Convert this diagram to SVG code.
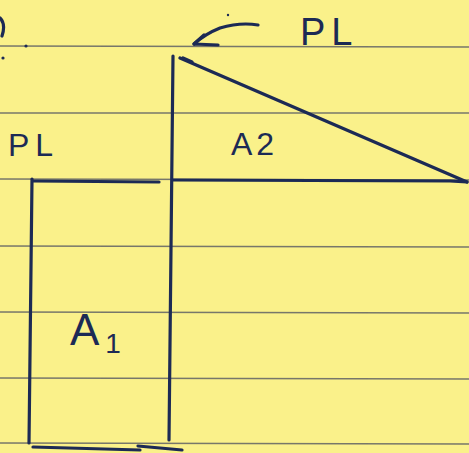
<svg xmlns="http://www.w3.org/2000/svg" width="469" height="453" viewBox="0 0 469 453">
<style>
.rule{stroke:#77776a;stroke-width:1.3;fill:none}
.ink{stroke:#1c2a55;stroke-width:3.2;fill:none;stroke-linecap:round;stroke-linejoin:round}
.lbl{font-family:"Liberation Sans","DejaVu Sans",sans-serif;fill:#1c2a55}
</style>
<rect width="469" height="453" fill="#faf18a"/>
<g id="paper-rules">
<line class="rule" x1="0" y1="46" x2="469" y2="47"/>
<line class="rule" x1="0" y1="113" x2="469" y2="113"/>
<line class="rule" x1="0" y1="179" x2="469" y2="180"/>
<line class="rule" x1="0" y1="246" x2="469" y2="247"/>
<line class="rule" x1="0" y1="312" x2="469" y2="313"/>
<line class="rule" x1="0" y1="378" x2="469" y2="379"/>
<line class="rule" x1="0" y1="443" x2="469" y2="444"/>
</g>
<g id="edge-marks">
<path class="ink" d="M0,18 Q6,24 2,36" stroke-width="2.5"/>
<circle cx="26" cy="46" r="1.6" fill="#1c2a55"/>
<circle cx="3" cy="58" r="1.6" fill="#1c2a55"/>
<circle cx="228" cy="15" r="1.2" fill="#1c2a55"/>
</g>
<g id="shapes">
<path class="ink" d="M32,179 L29,443"/>
<path class="ink" d="M173,56 L169,440"/>
<path class="ink" d="M33,181 L159,182"/>
<path class="ink" d="M173,180 L450,181 L467,182"/>
<path class="ink" d="M180,58 L467,182"/>
<path class="ink" d="M33,447 L140,450 M138,446 L182,450"/>
</g>
<g id="connectors">
<path class="ink" d="M258,25 Q240,22 220,28 Q205,34 194,44"/>
<path class="ink" d="M194,44 L204,35 M194,44 L218,45"/>
<path class="ink" d="M183,58 L192,62" stroke-width="2.5"/>
</g>
<g id="label-pl-top"><text class="lbl" x="300" y="45" font-size="38" letter-spacing="6">PL</text></g>
<g id="label-pl-left"><text class="lbl" x="8" y="156" font-size="32" letter-spacing="6">PL</text></g>
<g id="label-a2"><text class="lbl" x="231" y="155" font-size="32" letter-spacing="4">A2</text></g>
<g id="label-a1"><text class="lbl" x="70" y="345" font-size="44">A<tspan font-size="28" dx="6" dy="8">1</tspan></text></g>
</svg>
